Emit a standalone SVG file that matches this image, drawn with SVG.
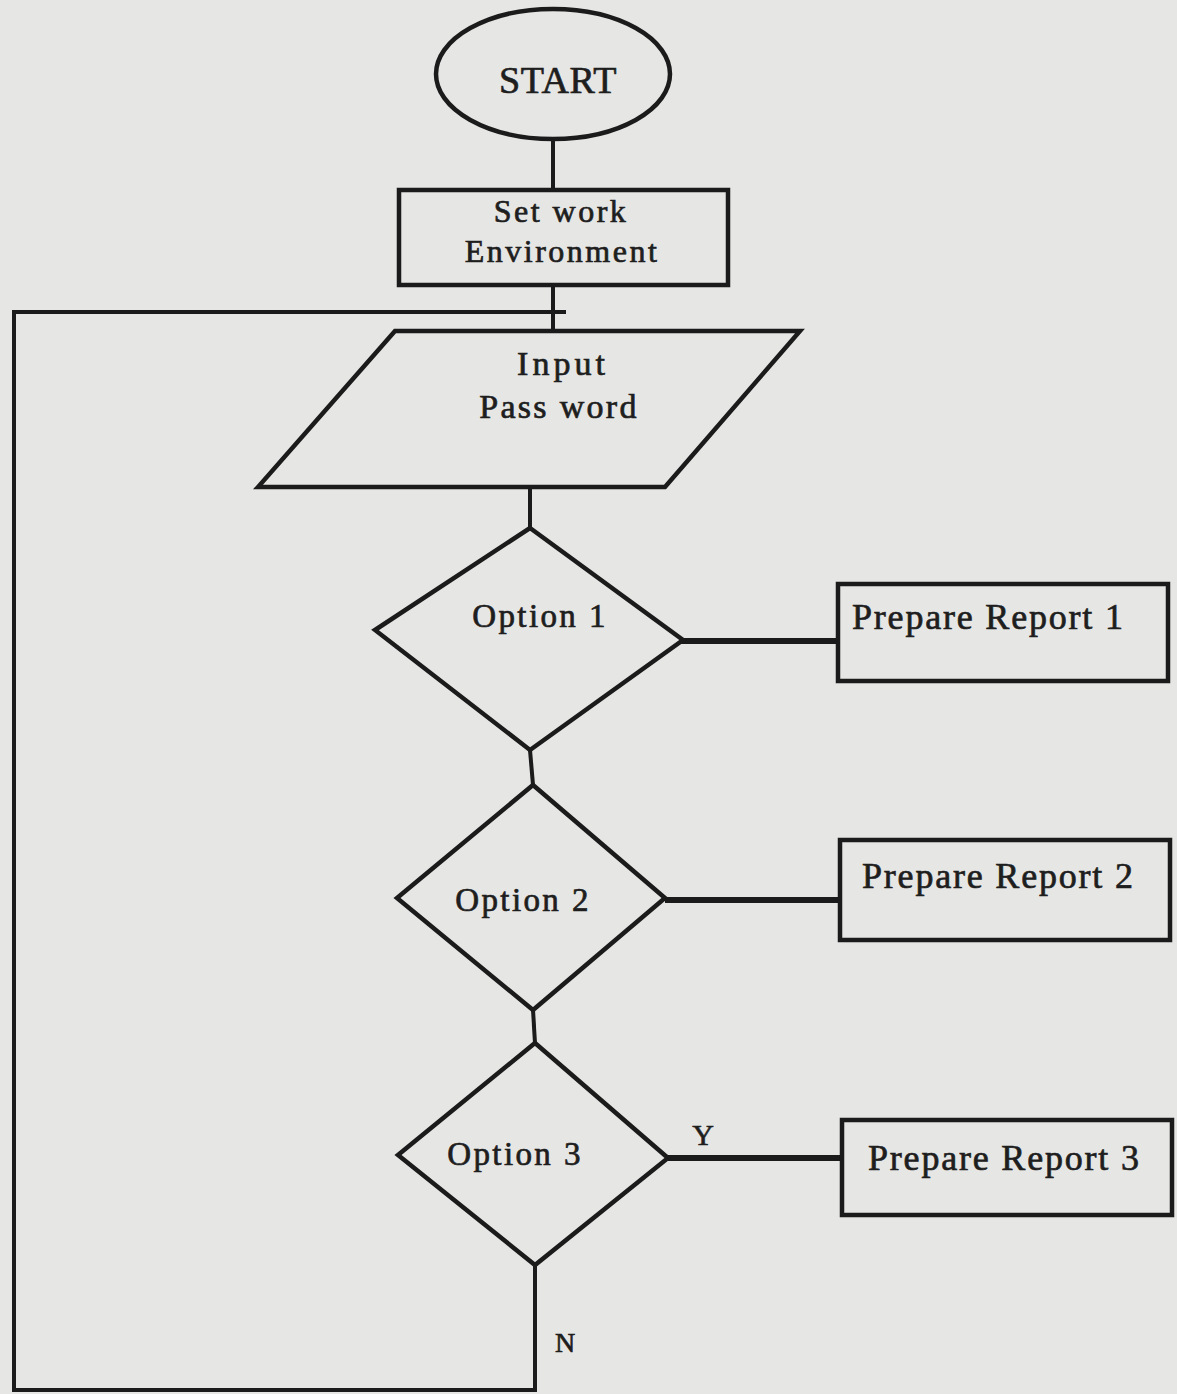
<svg xmlns="http://www.w3.org/2000/svg" width="1177" height="1394" viewBox="0 0 1177 1394">
<style>
.bg{fill:#e6e6e4}
.shape{fill:none;stroke:#1b1b1b;stroke-width:4.5;stroke-linejoin:miter}
.conn{fill:none;stroke:#1b1b1b;stroke-width:4}
.thick{stroke-width:6}
text{font-family:"Liberation Serif","Times New Roman",serif;fill:#1e1e1e;stroke:#1e1e1e;stroke-width:0.7}
.c{text-anchor:middle}
.opt{font-size:33px;letter-spacing:2.4px}
.rep{font-size:36px;letter-spacing:1.8px}
</style>
<rect class="bg" x="0" y="0" width="1177" height="1394"/>
<g id="connectors">
<line class="conn" x1="553" y1="139" x2="553" y2="190"/>
<line class="conn" x1="553" y1="285" x2="553" y2="331"/>
<polyline class="conn" points="566,312 14,312 14,1390 535,1390 535,1265"/>
<line class="conn" x1="530" y1="487" x2="530" y2="528"/>
<line class="conn" x1="530" y1="750" x2="533" y2="785"/>
<line class="conn" x1="533" y1="1010" x2="535" y2="1043"/>
<line class="conn thick" x1="680" y1="641" x2="838" y2="641"/>
<line class="conn thick" x1="665" y1="900" x2="840" y2="900"/>
<line class="conn thick" x1="668" y1="1158" x2="842" y2="1158"/>
<text x="703" y="1145" class="c" style="font-size:30px">Y</text>
<text x="565" y="1352" class="c" style="font-size:28px">N</text>
</g>
<g id="start">
<ellipse class="shape" cx="553" cy="74" rx="117" ry="65"/>
<text x="558" y="93" class="c" style="font-size:38px;letter-spacing:0.6px">START</text>
</g>
<g id="setwork">
<rect class="shape" x="399" y="190" width="329" height="95"/>
<text x="561" y="222" class="c" style="font-size:32px;letter-spacing:2.5px">Set work</text>
<text x="562" y="262" class="c" style="font-size:32px;letter-spacing:2.5px">Environment</text>
</g>
<g id="input">
<polygon class="shape" points="395,331 800,331 665,487 258,487"/>
<text x="563" y="375" class="c" style="font-size:34px;letter-spacing:4px">Input</text>
<text x="559" y="418" class="c" style="font-size:34px;letter-spacing:2.3px">Pass word</text>
</g>
<g id="option1">
<polygon class="shape" points="530,528 683,640 530,750 375,630"/>
<text x="540" y="627" class="c opt">Option 1</text>
</g>
<g id="report1">
<rect class="shape" x="838" y="584" width="330" height="97"/>
<text x="852" y="629" class="rep">Prepare Report 1</text>
</g>
<g id="option2">
<polygon class="shape" points="533,785 665,898 533,1010 397,898"/>
<text x="523" y="911" class="c opt">Option 2</text>
</g>
<g id="report2">
<rect class="shape" x="840" y="840" width="330" height="100"/>
<text x="862" y="888" class="rep">Prepare Report 2</text>
</g>
<g id="option3">
<polygon class="shape" points="535,1043 668,1158 535,1265 398,1155"/>
<text x="515" y="1165" class="c opt">Option 3</text>
</g>
<g id="report3">
<rect class="shape" x="842" y="1120" width="330" height="95"/>
<text x="868" y="1170" class="rep">Prepare Report 3</text>
</g>
</svg>
